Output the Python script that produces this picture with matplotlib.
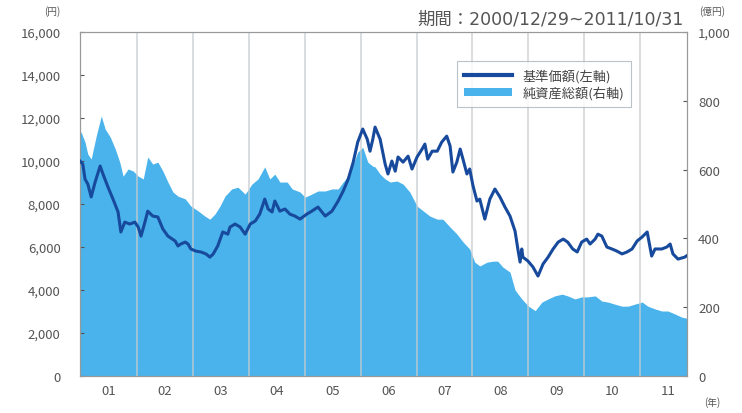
import matplotlib
matplotlib.use("Agg")
import matplotlib.pyplot as plt
from matplotlib.lines import Line2D
from matplotlib.patches import Patch

plt.rcParams['font.family'] = ['Noto Sans CJK JP', 'DejaVu Sans']

# 基準価額 (円), decimal-year positions
nav_t = [2000.99, 2001.04, 2001.08, 2001.13, 2001.19, 2001.26, 2001.35, 2001.40, 2001.49,
         2001.58, 2001.67, 2001.72, 2001.79, 2001.88, 2001.97, 2002.03, 2002.08, 2002.15,
         2002.20, 2002.29, 2002.38, 2002.47, 2002.56, 2002.69, 2002.74, 2002.79, 2002.87,
         2002.92, 2002.97, 2003.06, 2003.15, 2003.24, 2003.31, 2003.37, 2003.45, 2003.54,
         2003.63, 2003.67, 2003.76, 2003.85, 2003.94, 2004.03, 2004.12, 2004.20, 2004.29,
         2004.35, 2004.42, 2004.47, 2004.56, 2004.65, 2004.74, 2004.83, 2004.92, 2005.04,
         2005.13, 2005.24, 2005.37, 2005.49, 2005.60, 2005.69, 2005.78, 2005.87, 2005.95,
         2006.04, 2006.12, 2006.17, 2006.22, 2006.26, 2006.35, 2006.44, 2006.49, 2006.56,
         2006.62, 2006.67, 2006.76, 2006.85, 2006.92, 2007.01, 2007.10, 2007.15, 2007.20,
         2007.28, 2007.37, 2007.45, 2007.54, 2007.60, 2007.65, 2007.72, 2007.78, 2007.83,
         2007.90, 2007.95, 2008.01, 2008.08, 2008.13, 2008.22, 2008.31, 2008.40, 2008.49,
         2008.58, 2008.67, 2008.76, 2008.81, 2008.85, 2008.88, 2008.90, 2008.99, 2009.08,
         2009.17, 2009.26, 2009.35, 2009.44, 2009.53, 2009.62, 2009.70, 2009.79, 2009.87,
         2009.95, 2010.04, 2010.10, 2010.19, 2010.24, 2010.31, 2010.40, 2010.49, 2010.58,
         2010.67, 2010.76, 2010.85, 2010.94, 2011.03, 2011.12, 2011.17, 2011.20, 2011.26,
         2011.38, 2011.47, 2011.53, 2011.58, 2011.67, 2011.79, 2011.83]
nav_v = [10000, 9860, 9160, 8930, 8330, 9020, 9770, 9400, 8790,
         8230, 7630, 6700, 7160, 7070, 7160, 6930, 6510, 7160,
         7670, 7440, 7400, 6840, 6510, 6280, 6050, 6140, 6230,
         6140, 5910, 5810, 5770, 5680, 5530, 5680, 6050, 6700,
         6600, 6930, 7070, 6930, 6600, 7070, 7210, 7530, 8230,
         7770, 7630, 8140, 7670, 7770, 7530, 7440, 7300, 7530,
         7670, 7860, 7440, 7670, 8140, 8600, 9160, 9950, 10880,
         11490, 11020, 10460, 11020, 11580, 11020, 9860, 9400, 10000,
         9530, 10190, 9950, 10230, 9630, 10190, 10560, 10790, 10090,
         10460, 10460, 10880, 11160, 10700, 9490, 9950, 10560, 10090,
         9400, 9630, 8840, 8140, 8230, 7300, 8230, 8700, 8330,
         7860, 7440, 6740, 5910, 5300, 5910, 5530, 5350, 5070,
         4650, 5210, 5530, 5910, 6230, 6370, 6230, 5910, 5770,
         6230, 6370, 6140, 6370, 6600, 6510, 6000, 5910, 5810,
         5680, 5770, 5910, 6280, 6470, 6700, 6000, 5580, 5910,
         5910, 6000, 6140, 5680, 5440, 5530, 5600]

# 純資産総額 (億円)
aum_t = [2000.99, 2001.01, 2001.08, 2001.13, 2001.19, 2001.28, 2001.37, 2001.44, 2001.53,
         2001.62, 2001.70, 2001.76, 2001.85, 2001.94, 2002.03, 2002.12, 2002.20, 2002.29,
         2002.38, 2002.47, 2002.56, 2002.65, 2002.74, 2002.87, 2002.97, 2003.10, 2003.22,
         2003.31, 2003.40, 2003.49, 2003.58, 2003.70, 2003.81, 2003.94, 2004.06, 2004.17,
         2004.29, 2004.38, 2004.47, 2004.56, 2004.69, 2004.78, 2004.92, 2005.01, 2005.13,
         2005.24, 2005.37, 2005.49, 2005.60, 2005.69, 2005.78, 2005.87, 2005.95, 2006.04,
         2006.13, 2006.22, 2006.26, 2006.35, 2006.44, 2006.53, 2006.65, 2006.76, 2006.88,
         2007.01, 2007.12, 2007.24, 2007.37, 2007.47, 2007.60, 2007.72, 2007.83, 2007.95,
         2008.04, 2008.13, 2008.26, 2008.37, 2008.45, 2008.54, 2008.67, 2008.76, 2008.88,
         2009.00, 2009.12, 2009.24, 2009.35, 2009.47, 2009.60, 2009.70, 2009.83, 2009.95,
         2010.06, 2010.19, 2010.31, 2010.42, 2010.54, 2010.67, 2010.78, 2010.90, 2011.03,
         2011.13, 2011.26, 2011.38, 2011.49, 2011.62, 2011.74, 2011.83]
aum_v = [710, 709, 680, 645, 631, 698, 756, 718, 695,
         660, 622, 581, 602, 596, 581, 573, 637, 616,
         622, 596, 564, 535, 523, 515, 494, 480, 465,
         456, 471, 494, 523, 544, 549, 529, 558, 573,
         608, 573, 587, 564, 564, 544, 535, 520, 529,
         538, 538, 544, 544, 564, 581, 616, 651, 665,
         622, 610, 608, 587, 573, 564, 567, 558, 535,
         494, 480, 465, 456, 456, 433, 413, 390, 369,
         331, 320, 331, 334, 334, 317, 302, 250, 224,
         203, 190, 215, 224, 233, 238, 233, 224, 230,
         230, 233, 218, 215, 209, 203, 203, 209, 215,
         203, 195, 189, 189, 180, 171, 168]

years = list(range(2002, 2012))
year_labels = ['01', '02', '03', '04', '05', '06', '07', '08', '09', '10', '11']
left_ticks = [0, 2000, 4000, 6000, 8000, 10000, 12000, 14000, 16000]
right_ticks = [0, 200, 400, 600, 800, 1000]

fig = plt.figure(figsize=(7.42, 4.14), dpi=100)
ax = fig.add_axes([0.1078, 0.0894, 0.818, 0.8306])
ax2 = ax.twinx()
ax.set_zorder(ax2.get_zorder() + 1)
ax.patch.set_visible(False)

fill_color = '#4ab3ec'
line_color = '#174a9c'
txt_color = '#555555'

ax2.fill_between(aum_t, aum_v, 0, color=fill_color, linewidth=0)
for y in years:
    ax.axvline(y, color='#c8ccd0', lw=1.2, alpha=0.8, zorder=1)
ax.plot(nav_t, nav_v, color=line_color, lw=2.2, zorder=3)

ax.set_xlim(2000.99, 2011.83)
ax.set_ylim(0, 16000)
ax2.set_ylim(0, 1000)

ax.set_yticks(left_ticks)
ax.set_yticklabels([f'{v:,}' for v in left_ticks])
ax2.set_yticks(right_ticks)
ax2.set_yticklabels([f'{v:,}' for v in right_ticks])

ax.set_xticks([2001.5 + i for i in range(len(year_labels))])
ax.set_xticklabels(year_labels)

for a in (ax, ax2):
    for s in a.spines.values():
        s.set_color('#999999')
        s.set_linewidth(0.8)
    a.tick_params(colors=txt_color, labelsize=9.5, length=0, pad=8)
ax.tick_params(axis='y', length=3, direction='in', pad=14)
ax2.tick_params(axis='y', length=3, direction='in', pad=8)
ax.tick_params(axis='x', pad=6)
for lab in ax.get_yticklabels() + ax2.get_yticklabels() + ax.get_xticklabels():
    lab.set_color(txt_color)

fig.text(52/742, 1 - 12/414, '(円)', fontsize=7, color=txt_color, ha='center', va='center')
fig.text(712/742, 1 - 12/414, '(億円)', fontsize=7, color=txt_color, ha='center', va='center')
fig.text(712/742, 1 - 403/414, '(年)', fontsize=7, color=txt_color, ha='center', va='center')
fig.text(684/742, 1 - 19/414, '期間：2000/12/29~2011/10/31', fontsize=12.5,
         family=['DejaVu Sans', 'Noto Sans CJK JP'],
         color=txt_color, ha='right', va='center')

handles = [Line2D([0], [0], color=line_color, lw=3),
           Patch(facecolor=fill_color, edgecolor='none')]
leg = fig.legend(handles, ['基準価額(左軸)', '純資産総額(右軸)'],
                 loc='upper left', bbox_to_anchor=(457/742, 1 - 62/414),
                 fontsize=9.5, frameon=True, fancybox=False, edgecolor='#a9b4bd',
                 handlelength=3.6, handleheight=0.6, borderpad=0.55, labelspacing=0.3,
                 handletextpad=0.8, borderaxespad=0)
leg.get_frame().set_linewidth(0.8)
for t in leg.get_texts():
    t.set_color('#444444')

fig.savefig('out.png', dpi=100)
